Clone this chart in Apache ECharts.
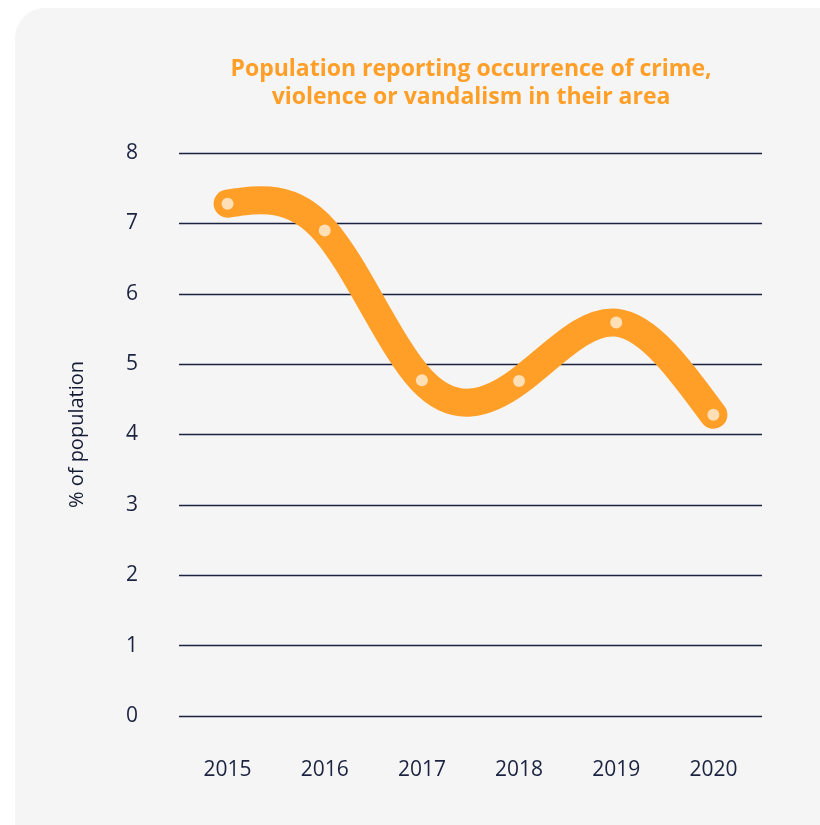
<!DOCTYPE html>
<html>
<head>
<meta charset="utf-8">
<script src="https://cdn.jsdelivr.net/npm/echarts@6/dist/echarts.min.js"></script>
<style>
  html, body { margin: 0; padding: 0; background: #ffffff; width: 820px; height: 825px; overflow: hidden; }
  #panel { position: absolute; left: 15px; top: 8px; width: 840px; height: 850px; background: #f5f5f6; border-radius: 30px; }
  #chart { position: absolute; left: 0; top: 0; width: 820px; height: 825px; }
</style>
</head>
<body>
<div id="panel"></div>
<div id="chart"></div>
<script>
const categories = ['2015', '2016', '2017', '2018', '2019', '2020'];
const values = [7.28, 6.90, 4.77, 4.76, 5.59, 4.28];
const yTicks = [0, 1, 2, 3, 4, 5, 6, 7, 8];
const titleText = 'Population reporting occurrence of crime,\nviolence or vandalism in their area';
const yAxisName = '% of population';

// natural cubic spline control points (same as d3.curveNatural)
function controlPoints(x) {
  const n = x.length - 1;
  const a = new Array(n), b = new Array(n), r = new Array(n);
  let m, i;
  a[0] = 0; b[0] = 2; r[0] = x[0] + 2 * x[1];
  for (i = 1; i < n - 1; ++i) { a[i] = 1; b[i] = 4; r[i] = 4 * x[i] + 2 * x[i + 1]; }
  a[n - 1] = 2; b[n - 1] = 7; r[n - 1] = 8 * x[n - 1] + x[n];
  for (i = 1; i < n; ++i) { m = a[i] / b[i - 1]; b[i] -= m; r[i] -= m * r[i - 1]; }
  a[n - 1] = r[n - 1] / b[n - 1];
  for (i = n - 2; i >= 0; --i) a[i] = (r[i] - a[i + 1]) / b[i];
  b[n - 1] = (x[n] + a[n - 1]) / 2;
  for (i = 0; i < n - 1; ++i) b[i] = 2 * x[i + 1] - a[i + 1];
  return [a, b];
}

const pairs = categories.map((c, i) => [i, values[i]]);

const chart = echarts.init(document.getElementById('chart'), null, { renderer: 'canvas' });
chart.setOption({
  backgroundColor: 'transparent',
  animation: false,
  title: {
    text: titleText,
    left: 466,
    top: 50,
    textAlign: 'center',
    textStyle: {
      fontFamily: 'Open Sans',
      fontWeight: 'bold',
      fontSize: 23,
      lineHeight: 28,
      color: '#ff9f27'
    }
  },
  grid: { left: 179, right: 58, top: 153, bottom: 109, containLabel: false },
  xAxis: {
    type: 'category',
    data: categories,
    boundaryGap: true,
    axisLine: { show: false },
    axisTick: { show: false },
    axisLabel: { margin: 44, fontFamily: 'Open Sans', fontSize: 21, color: '#1b2340' }
  },
  yAxis: {
    type: 'value',
    min: yTicks[0],
    max: yTicks[yTicks.length - 1],
    interval: 1,
    name: yAxisName,
    nameLocation: 'middle',
    nameGap: 92,
    nameRotate: 90,
    nameTextStyle: { fontFamily: 'Open Sans', fontSize: 20, color: '#141b33' },
    axisLine: { show: false },
    axisTick: { show: false },
    axisLabel: { margin: 41, fontFamily: 'Open Sans', fontSize: 21, color: '#1b2340' },
    splitLine: { lineStyle: { color: '#1b2340', width: 1.3 } }
  },
  series: [{
    type: 'custom',
    data: pairs,
    encode: { x: 0, y: 1 },
    z: 3,
    renderItem: function (params, api) {
      if (params.dataIndex !== 0) return null;
      const pts = pairs.map(p => api.coord([p[0], p[1]]));
      const xs = pts.map(p => p[0]), ys = pts.map(p => p[1]);
      const px = controlPoints(xs), py = controlPoints(ys);
      let d = 'M' + xs[0] + ' ' + ys[0];
      for (let i = 0; i < xs.length - 1; i++) {
        d += ' C' + px[0][i] + ' ' + py[0][i] + ' ' + px[1][i] + ' ' + py[1][i] + ' ' + xs[i + 1] + ' ' + ys[i + 1];
      }
      return {
        type: 'path',
        shape: { pathData: d },
        style: { fill: null, stroke: '#ff9f27', lineWidth: 28, lineCap: 'round', lineJoin: 'round' },
        silent: true
      };
    }
  }, {
    type: 'scatter',
    data: values,
    symbol: 'circle',
    symbolSize: 12,
    itemStyle: { color: '#ffefdb' },
    z: 4
  }]
});
</script>
</body>
</html>
